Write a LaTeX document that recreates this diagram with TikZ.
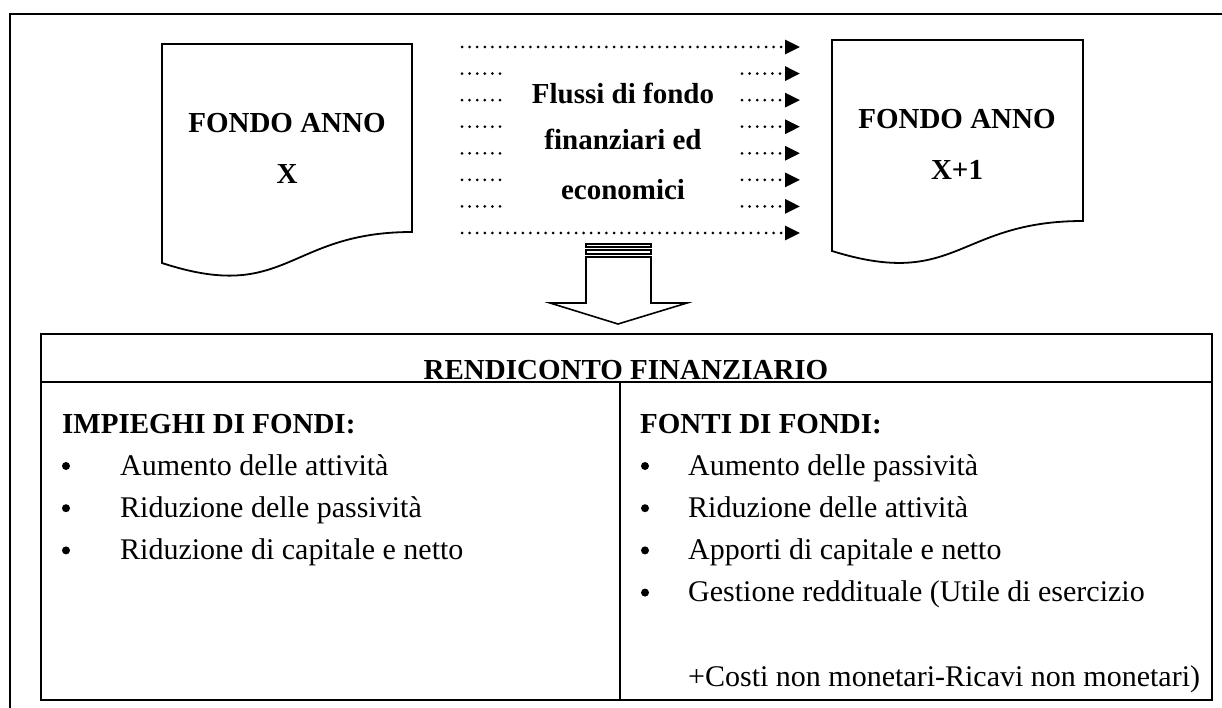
\documentclass[tikz,border=0pt]{standalone}
\usepackage{fontspec}
\setmainfont{Liberation Serif}
\usetikzlibrary{positioning,arrows.meta}
\tikzset{frameline/.style={line width=1.4pt},
	 docshape/.style={line width=1.8pt},
	 tblline/.style={line width=2pt},
	 flow/.style={line width=3pt,line cap=round,dash pattern=on 0pt off 7.6pt},
	 flowhead/.style={-{Triangle[length=15pt,width=14pt]}},
	 blkarrow/.style={line width=1.6pt,fill=white},
	 boldtxt/.style={font=\fontsize{29}{35}\selectfont\bfseries,inner sep=0pt,anchor=base},
	 itemtxt/.style={font=\fontsize{30}{36}\selectfont,inner sep=0pt,anchor=base west},
	 bullet/.style={circle,fill=black,inner sep=0pt,minimum size=8pt}
	 }

\begin{document}
\begin{tikzpicture}[x=1pt,y=-1pt] % rendiconto finanziario
	\useasboundingbox (0,0) rectangle (1222,708);
	\draw[frameline] (10,708) -- (10,14) -- (1222,14);
	% the two funds
	\draw[docshape] (162,44) -- (412,44) -- (412,232) .. controls (287,232) and (287,304) .. (162,263) -- cycle;
	\draw[docshape] (832,40) -- (1083,40) -- (1083,221) .. controls (957,221) and (957,290) .. (832,251) -- cycle;
	\node[boldtxt] (f1) at (287,133) {FONDO ANNO};
	\node[boldtxt] (x1) at (287,184) {X};
	\node[boldtxt] (f2) at (957,129) {FONDO ANNO};
	\node[boldtxt] (x2) at (957,180) {X+1};
	% flows
	\node[boldtxt] (fl1) at (623,104) {Flussi di fondo};
	\node[boldtxt] (fl2) at (623,150) {finanziari ed};
	\node[boldtxt] (fl3) at (623,200) {economici};
	\coordinate (ltop) at (462,47); \coordinate (rtop) at (800,47);
	\coordinate (lbot) at (462,233); \coordinate (rbot) at (800,233);
	\draw[flow,flowhead] (ltop) -- (rtop);
	\draw[flow,flowhead] (lbot) -- (rbot);
	\foreach \i in {1,...,6} {
		\coordinate (l\i) at (462,47+26.57*\i);
		\coordinate (m\i) at (505,47+26.57*\i);
		\coordinate (n\i) at (742,47+26.57*\i);
		\coordinate (r\i) at (800,47+26.57*\i);
		\draw[flow] (l\i) -- (m\i);
		\draw[flow,flowhead] (n\i) -- (r\i);
	}
	% block arrow
	\draw[blkarrow] (586,244) rectangle (651,247);
	\draw[blkarrow] (586,250) rectangle (651,254);
	\draw[blkarrow] (586,257) -- (651,257) -- (651,303) -- (687,303) -- (618,324) -- (550,303) -- (586,303) -- cycle;
	% table
	\draw[tblline] (41,334) rectangle (1212,700);
	\begin{scope}
		\clip (41,334) rectangle (1212,381);
		\node[boldtxt] (title) at (626,379) {RENDICONTO FINANZIARIO};
	\end{scope}
	\draw[tblline] (41,382) -- (1212,382);
	\draw[tblline] (620,382) -- (620,700);
	\node[boldtxt,anchor=base west] (imp) at (62,433) {IMPIEGHI DI FONDI:};
	\node[boldtxt,anchor=base west] (fon) at (640,433) {FONTI DI FONDI:};
	\foreach \t [count=\k] in {Aumento delle attività,Riduzione delle passività,Riduzione di capitale e netto} {
		\node[bullet] (bl\k) at (66,466+42.2*\k-42.2) {};
		\node[itemtxt] (il\k) at (120,475+42.2*\k-42.2) {\t};
	}
	\foreach \t [count=\k] in {Aumento delle passività,Riduzione delle attività,Apporti di capitale e netto,Gestione reddituale (Utile di esercizio} {
		\node[bullet] (br\k) at (645,466+42.2*\k-42.2) {};
		\node[itemtxt] (ir\k) at (688,475+42.2*\k-42.2) {\t};
	}
	\node[itemtxt] (ir5) at (688,686) {+Costi non monetari-Ricavi non monetari)};
\end{tikzpicture}
\end{document}
